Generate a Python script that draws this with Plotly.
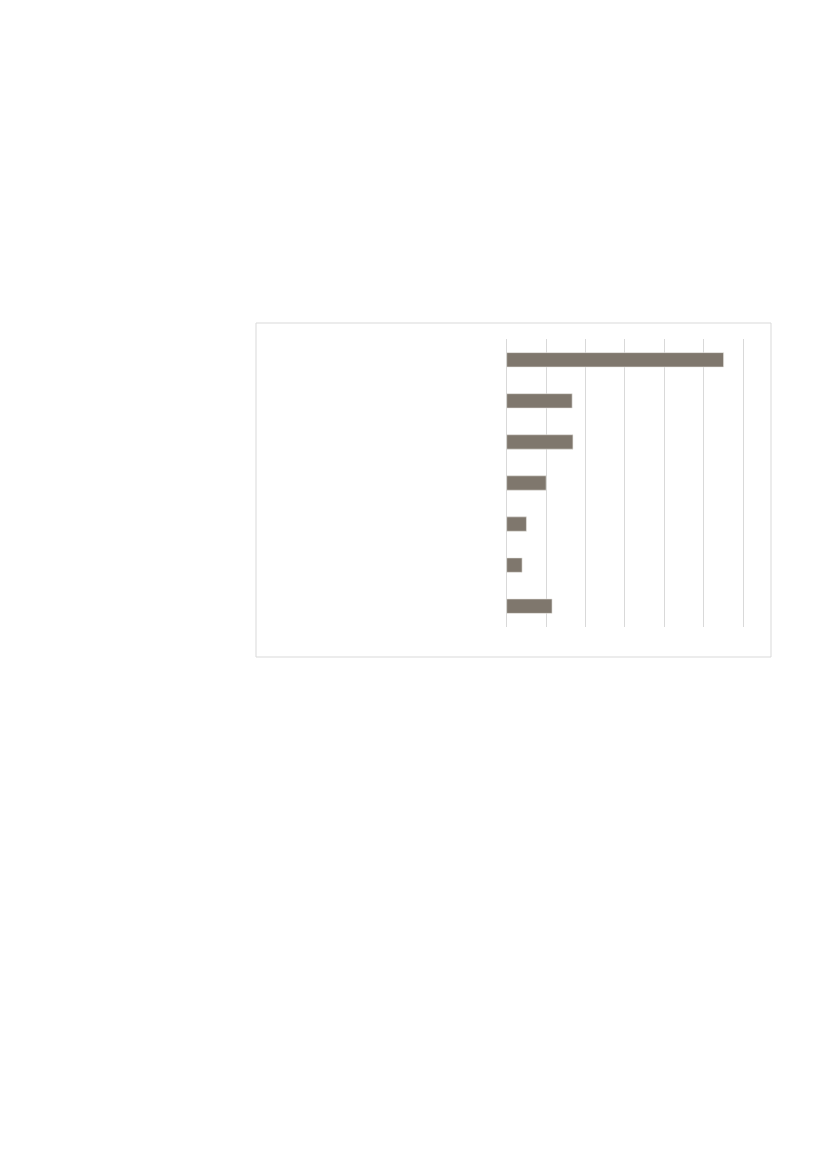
import plotly.graph_objects as go

# values, top to bottom
categories = ["A", "B", "C", "D", "E", "F", "G"]
values = [5.5, 1.66, 1.68, 1.0, 0.5, 0.39, 1.15]

bar_color = "#7f776d"
grid_color = "#d9d9d9"

W, H = 827, 1170
OFF = 8  # the page body margin shifts the figure by this much

# plot area in page pixels
x0_px, unit_px = 506.7, 39.43
x_max = 6.05
y_top, y_bot = 339.3, 626.7

def px(x):
    return (x - OFF) / W

def py(y):
    return 1 - (y - OFF) / H

fig = go.Figure()
fig.add_trace(go.Bar(
    x=values,
    y=categories,
    orientation="h",
    marker=dict(color=bar_color, line=dict(color="#e8e6e3", width=0.6)),
    hoverinfo="x",
))

fig.update_layout(
    width=W,
    height=H,
    margin=dict(l=0, r=0, t=0, b=0),
    paper_bgcolor="white",
    plot_bgcolor="white",
    showlegend=False,
    bargap=0.65,
    xaxis=dict(
        domain=[px(x0_px), px(x0_px + unit_px * x_max)],
        range=[0, x_max],
        dtick=1,
        showgrid=True,
        gridcolor=grid_color,
        gridwidth=1,
        zeroline=True,
        zerolinecolor=grid_color,
        zerolinewidth=1,
        showticklabels=False,
        showline=False,
        fixedrange=True,
    ),
    yaxis=dict(
        domain=[py(y_bot), py(y_top)],
        range=[6.5, -0.5],
        showgrid=False,
        zeroline=False,
        showticklabels=False,
        showline=False,
        fixedrange=True,
    ),
    shapes=[dict(
        type="rect", xref="paper", yref="paper",
        x0=px(256), x1=px(771), y0=py(657), y1=py(323),
        line=dict(color=grid_color, width=1),
        fillcolor="rgba(0,0,0,0)",
    )],
)

fig.write_html("out.html")
